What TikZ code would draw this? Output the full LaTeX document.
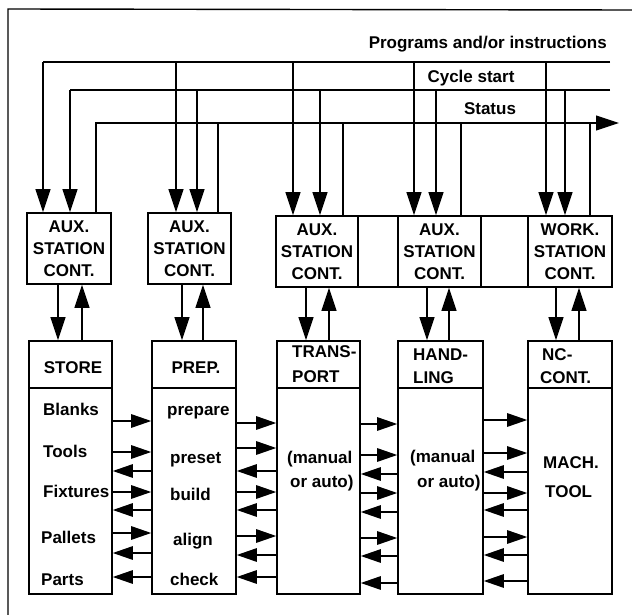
\documentclass[tikz,border=0pt]{standalone}
\usepackage{fontspec}
\setmainfont{Liberation Sans}
\usetikzlibrary{arrows.meta}
\newcommand\dgfont{\fontsize{17}{22}\selectfont\bfseries}
\begin{document}
\begin{tikzpicture}[x=1pt,y=-1pt,
  wire/.style={line width=1.2pt},
  darr/.style={wire,-{Triangle[length=23pt,width=15pt]}},
  harr/.style={wire,-{Triangle[length=20pt,width=13.5pt]}},
  bigarr/.style={wire,-{Triangle[length=23pt,width=15pt]}},
  ctrl/.style={draw,line width=1.6pt,inner sep=0pt,align=center,font=\dgfont,minimum height=71pt},
  unit/.style={draw,line width=1.6pt,inner sep=0pt,minimum height=253pt},
  lbl/.style={inner sep=0pt,font=\dgfont},
]
\useasboundingbox (0,0) rectangle (632,615);
\draw[line width=1.4pt] (8,615) -- (8,9) -- (632,10);

% bus labels
\node[lbl,anchor=base east] (tprog) at (607,49) {Programs and/or instructions};
\node[lbl,anchor=base] (tcyc) at (471,83) {Cycle start};
\node[lbl,anchor=base] (tstat) at (490,115) {Status};

% control boxes
\node[ctrl,minimum width=84pt] (c1) at (69,248.5) {AUX.\\STATION\\CONT.};
\node[ctrl,minimum width=83pt] (c2) at (189.5,248.5) {AUX.\\STATION\\CONT.};
\node[ctrl,minimum width=82pt] (c3) at (317,251.5) {AUX.\\STATION\\CONT.};
\node[ctrl,minimum width=40pt] (f1) at (378,251.5) {};
\node[ctrl,minimum width=83pt] (c4) at (439.5,251.5) {AUX.\\STATION\\CONT.};
\node[ctrl,minimum width=47pt] (f2) at (504.5,251.5) {};
\node[ctrl,minimum width=84pt] (c5) at (570,251.5) {WORK.\\STATION\\CONT.};

% lower units
\node[unit,minimum width=83pt] (store) at (70.5,467.5) {};
\node[unit,minimum width=84pt] (prep) at (194,467.5) {};
\node[unit,minimum width=83pt] (trans) at (318.5,467.5) {};
\node[unit,minimum width=85pt] (hand) at (440.5,467.5) {};
\node[unit,minimum width=84pt] (nc) at (570,467.5) {};
\coordinate (dv) at (0,388);
\foreach \b in {store,prep,trans,hand,nc}
  \draw[line width=1.6pt] (\b.west |- dv) -- (\b.east |- dv);

% buses
\coordinate (pL) at (43,62);  \coordinate (pR) at (610,62);
\coordinate (cL) at (70,90);  \coordinate (cR) at (610,90);
\coordinate (sL) at (96,123); \coordinate (sR) at (619,123);
\draw[wire] (pR) -- (pL);
\draw[darr] (pL) -- (pL |- c1.north);
\draw[wire] (cR) -- (cL);
\draw[darr] (cL) -- (cL |- c1.north);
\draw[bigarr] (sL |- c1.north) -- (sL) -- (sR);
\foreach \x/\c in {176/c2,293/c3,414/c4,546/c5}
  {\coordinate (q) at (\x,62); \draw[darr] (q) -- (q |- \c.north);}
\foreach \x/\c in {197/c2,320/c3,436/c4,565/c5}
  {\coordinate (q) at (\x,90); \draw[darr] (q) -- (q |- \c.north);}
\foreach \x/\c in {218/c2,343/c3,461/c4,590/c5}
  {\coordinate (q) at (\x,123); \draw[wire] (q |- \c.north) -- (q);}

% control <-> unit
\foreach \x/\c/\u in {58/c1/store,182/c2/prep,306/c3/trans,427/c4/hand,556/c5/nc}
  {\coordinate (q) at (\x,0); \draw[darr] (q |- \c.south) -- (q |- \u.north);}
\foreach \x/\c/\u in {82/c1/store,203/c2/prep,329/c3/trans,449/c4/hand,579/c5/nc}
  {\coordinate (q) at (\x,0); \draw[darr] (q |- \u.north) -- (q |- \c.south);}

% horizontal arrows between units
\foreach \y in {421,452,492,533}
  {\coordinate (hy) at (0,\y); \draw[harr] (store.east |- hy) -- (prep.west |- hy);}
\foreach \y in {471,510,553,577}
  {\coordinate (hy) at (0,\y); \draw[harr] (prep.west |- hy) -- (store.east |- hy);}
\foreach \y in {423,448,492,536}
  {\coordinate (hy) at (0,\y); \draw[harr] (prep.east |- hy) -- (trans.west |- hy);}
\foreach \y in {471,510,555,577}
  {\coordinate (hy) at (0,\y); \draw[harr] (trans.west |- hy) -- (prep.east |- hy);}
\foreach \y in {424,455,493,538}
  {\coordinate (hy) at (0,\y); \draw[harr] (trans.east |- hy) -- (hand.west |- hy);}
\foreach \y in {474,512,556,583}
  {\coordinate (hy) at (0,\y); \draw[harr] (hand.west |- hy) -- (trans.east |- hy);}
\foreach \y in {420,453,493,537}
  {\coordinate (hy) at (0,\y); \draw[harr] (hand.east |- hy) -- (nc.west |- hy);}
\foreach \y in {472,510,555,581}
  {\coordinate (hy) at (0,\y); \draw[harr] (nc.west |- hy) -- (hand.east |- hy);}

% unit headers
\node[lbl,anchor=base] (hstore) at (73,373) {STORE};
\node[lbl,anchor=base] (hprep) at (196,373) {PREP.};
\node[lbl,anchor=base west] (htr1) at (292,357) {TRANS-};
\node[lbl,anchor=base west] (htr2) at (292,382) {PORT};
\node[lbl,anchor=base west] (hha1) at (413,360) {HAND-};
\node[lbl,anchor=base west] (hha2) at (413,383) {LING};
\node[lbl,anchor=base west] (hnc1) at (542,360) {NC-};
\node[lbl,anchor=base west] (hnc2) at (540,383) {CONT.};

% unit contents
\node[lbl,anchor=base west] (s1) at (43,415) {Blanks};
\node[lbl,anchor=base west] (s2) at (43,457) {Tools};
\node[lbl,anchor=base west] (s3) at (43,497) {Fixtures};
\node[lbl,anchor=base west] (s4) at (41,543) {Pallets};
\node[lbl,anchor=base west] (s5) at (41,585) {Parts};
\node[lbl,anchor=base west] (p1) at (167,415) {prepare};
\node[lbl,anchor=base west] (p2) at (170,463) {preset};
\node[lbl,anchor=base west] (p3) at (170,500) {build};
\node[lbl,anchor=base west] (p4) at (173,545) {align};
\node[lbl,anchor=base west] (p5) at (170,585) {check};
\node[lbl,anchor=base west] (t1) at (287,463) {(manual};
\node[lbl,anchor=base west] (t2) at (290,487) {or auto)};
\node[lbl,anchor=base west] (a1) at (410,462) {(manual};
\node[lbl,anchor=base west] (a2) at (417,487) {or auto)};
\node[lbl,anchor=base west] (m1) at (543,468) {MACH.};
\node[lbl,anchor=base west] (m2) at (545,497) {TOOL};
\end{tikzpicture}
\end{document}
